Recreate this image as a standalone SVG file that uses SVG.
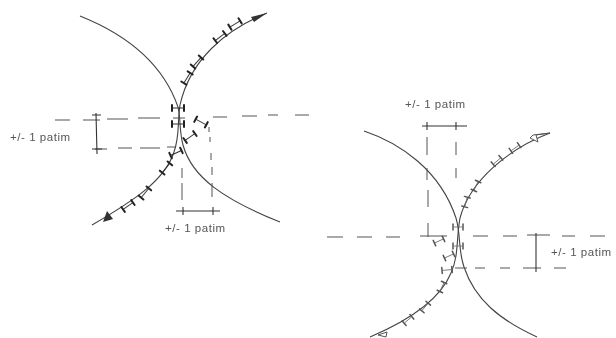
<svg xmlns="http://www.w3.org/2000/svg" width="616" height="338" viewBox="0 0 616 338">
<style>
.c{fill:none;stroke:#444;stroke-width:1.1}
.d{fill:none;stroke:#555;stroke-width:1}
.dim{fill:none;stroke:#333;stroke-width:1.1}
.t{font-family:"Liberation Sans",Arial,sans-serif;font-size:11.5px;fill:#555;letter-spacing:.55px}
.w{stroke:#222;stroke-width:2;stroke-linecap:round}
.a{stroke:#333;stroke-width:1}
.w2{stroke:#555;stroke-width:1.5;stroke-linecap:round}
.a2{stroke:#666;stroke-width:.8}
</style>
<defs>
<filter id="b" x="-5%" y="-5%" width="110%" height="110%"><feGaussianBlur stdDeviation="0.35"/></filter>
<g id="car"><line class="a" x1="-5.5" y1="0" x2="5.5" y2="0"/><line class="w" x1="-6" y1="-3" x2="-6" y2="3"/><line class="w" x1="6" y1="-3" x2="6" y2="3"/></g>
<g id="car2"><line class="a2" x1="-4.5" y1="0" x2="4.5" y2="0"/><line class="w2" x1="-5" y1="-3" x2="-5" y2="3"/><line class="w2" x1="5" y1="-3" x2="5" y2="3"/></g>
</defs>
<rect width="616" height="338" fill="#fff"/>
<g filter="url(#b)">
<g id="connectors">
<g id="left-curves">
<path class="c" d="M80 16C115 30 160 55 178 107C181 120 179 130 183 145C192 178 225 200 280 222"/>
<path class="c" d="M267 13C225 30 190 60 180 105C177 125 180 135 174 152C165 180 135 200 92 225"/>
<path d="M267 13L251 17L254 22Z" fill="#333"/>
<path d="M103 222L113 219L107 211Z" fill="#333"/>
</g>
<g id="left-dims">
<path class="d" stroke-dasharray="0" d="M55 120H70M83 120H100M107 119H128M138 118H160M173 118H185M213 117H227M242 116H257M268 115H278M295 115H309"/>
<path class="d" d="M95 149H107M118 148H132M140 148H160M167 147H175"/>
<path class="d" d="M182 168V178M182 183V200M209 127V132M210 137V142M211 153V160M212 167V175M212 183V197"/>
<path class="dim" d="M96 113L97 154M92 115H101M92 149H102M176 211H220M183 207V215M213 207V215"/>
</g>
<g id="right-curves">
<path class="c" d="M364 131C400 143 440 170 456 218C461 235 458 250 464 267C475 300 500 320 537 337"/>
<path class="c" d="M550 133C510 148 470 180 460 218C456 240 459 255 451 273C440 300 410 320 370 337"/>
<path d="M550 133L536 135L538 142L530 138L533 135Z" fill="#fff" stroke="#555" stroke-width="1"/>
<path d="M378 335L387 332L386 337Z" fill="#fff" stroke="#555" stroke-width="1"/>
</g>
<g id="right-dims">
<path class="d" d="M327 237H343M357 237H372M386 237H400M420 236H447M473 236H488M503 236H517M527 235H550M562 236H575M590 236H605"/>
<path class="d" d="M455 268H467M475 268H485M500 268H510M523 268H541M554 268H566"/>
<path class="d" d="M427 137V155M427 168V180M428 190V207M428 223V237M456 142V155M456 168V178"/>
<path class="dim" d="M536 233V272M422 126H467M427 122V130M456 122V130"/>
</g>
</g>
<g id="left-cars">
<use href="#car" transform="translate(235 24) rotate(-32)"/>
<use href="#car" transform="translate(220 37) rotate(-37)"/>
<use href="#car" transform="translate(197 62) rotate(-48)"/>
<use href="#car" transform="translate(187 78) rotate(-58)"/>
<use href="#car" transform="translate(178 108)"/>
<use href="#car" transform="translate(178 124)"/>
<use href="#car" transform="translate(201 122) rotate(28)"/>
<use href="#car" transform="translate(190 137) rotate(-35)"/>
<use href="#car" transform="translate(176 153) rotate(-25)"/>
<use href="#car" transform="translate(166 168) rotate(-50)"/>
<use href="#car" transform="translate(145 193) rotate(-50)"/>
<use href="#car" transform="translate(128 206) rotate(-35)"/>
</g>
<g id="right-cars">
<use href="#car2" transform="translate(515 148) rotate(-35)"/>
<use href="#car2" transform="translate(497 161) rotate(-40)"/>
<use href="#car2" transform="translate(476 186) rotate(-65)"/>
<use href="#car2" transform="translate(466 202) rotate(-75)"/>
<use href="#car2" transform="translate(458 227)"/>
<use href="#car2" transform="translate(458 246)"/>
<use href="#car2" transform="translate(439 241) rotate(-25)"/>
<use href="#car2" transform="translate(449 256) rotate(-25)"/>
<use href="#car2" transform="translate(447 270) rotate(-5)"/>
<use href="#car2" transform="translate(442 287) rotate(-65)"/>
<use href="#car2" transform="translate(425 307) rotate(-50)"/>
<use href="#car2" transform="translate(408 320) rotate(-40)"/>
</g>
<g id="labels">
<text class="t" x="10" y="141">+/- 1 patim</text>
<text class="t" x="165" y="232">+/- 1 patim</text>
<text class="t" x="405" y="108">+/- 1 patim</text>
<text class="t" x="551" y="256">+/- 1 patim</text>
</g>
</g>
</svg>
